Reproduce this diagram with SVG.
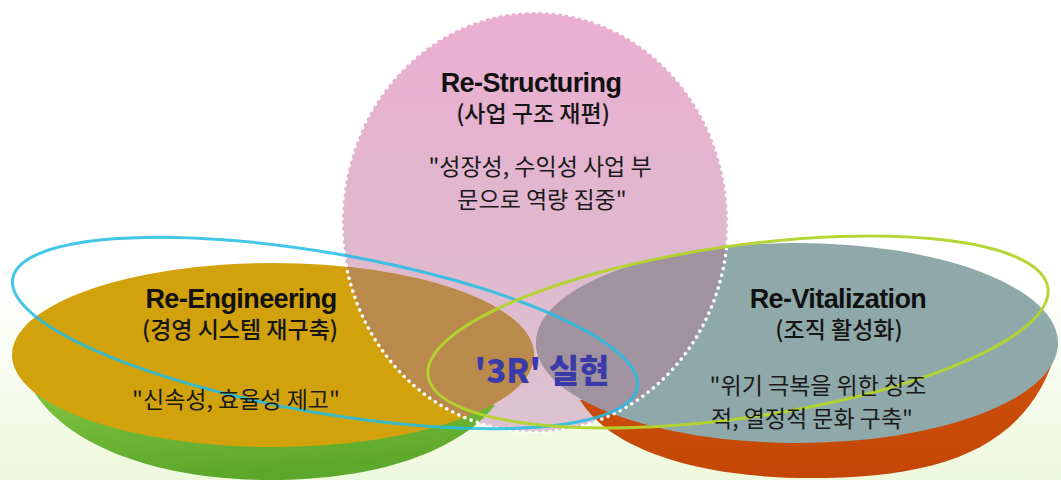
<svg xmlns="http://www.w3.org/2000/svg" width="1061" height="480" viewBox="0 0 1061 480">
  <defs>
    <linearGradient id="haze" x1="0" y1="0" x2="0" y2="1">
      <stop offset="0" stop-color="#ffffff"/>
      <stop offset="0.6" stop-color="#ffffff"/>
      <stop offset="1" stop-color="#eef8dc"/>
    </linearGradient>
    <linearGradient id="pinkFill" x1="0" y1="12" x2="0" y2="432" gradientUnits="userSpaceOnUse">
      <stop offset="0" stop-color="#eaaed1"/>
      <stop offset="0.6" stop-color="#dfb9ce"/>
      <stop offset="1" stop-color="#dcc3d0"/>
    </linearGradient>
    <linearGradient id="greenSide" x1="0" y1="0" x2="0.3" y2="1">
      <stop offset="0" stop-color="#8ccb4a"/>
      <stop offset="1" stop-color="#5ca82a"/>
    </linearGradient>
    <linearGradient id="orangeSide" x1="0" y1="0" x2="0" y2="1">
      <stop offset="0" stop-color="#d0520e"/>
      <stop offset="1" stop-color="#c44606"/>
    </linearGradient>
    <clipPath id="clipEngineering">
      <ellipse cx="273" cy="355" rx="261" ry="92"/>
    </clipPath>
    <clipPath id="clipVitalization">
      <ellipse cx="797" cy="343" rx="261" ry="100"/>
    </clipPath>
    <style>
      .title { font-family: "Liberation Sans", Arial, sans-serif; font-weight: bold; font-size: 27px; letter-spacing: -0.6px; fill: #111; text-anchor: middle; }
      .sub { font-family: "Noto Sans CJK KR", "Noto Sans", sans-serif; font-weight: 500; font-size: 23px; fill: #151515; text-anchor: middle; }
      .quote { font-family: "Noto Sans CJK KR", "Noto Sans", sans-serif; font-weight: 400; font-size: 23px; fill: #1a1a1a; text-anchor: middle; }
      .core { font-family: "Noto Sans CJK KR", "Noto Sans", sans-serif; font-weight: 900; font-size: 33px; fill: #3a3aa8; text-anchor: middle; }
      .ring { fill: none; stroke-width: 3; }
    </style>
  </defs>

  <!-- page background with a soft green haze at the floor -->
  <rect x="0" y="0" width="1061" height="480" fill="url(#haze)"/>

  <!-- Re-Structuring: upright pink disc -->
  <g id="node-restructuring">
    <ellipse cx="535" cy="222" rx="193" ry="210" fill="url(#pinkFill)"/>
  </g>

  <!-- Re-Engineering: mustard dish on a green side wall -->
  <g id="node-reengineering">
    <path d="M 20 360 L 495 405 C 460 450, 380 480, 270 480 C 150 480, 40 440, 20 360 Z" fill="url(#greenSide)"/>
    <ellipse cx="273" cy="355" rx="261" ry="92" fill="#d2a20c"/>
    <ellipse cx="535" cy="222" rx="193" ry="210" fill="#b98a4c" clip-path="url(#clipEngineering)"/>
  </g>

  <!-- Re-Vitalization: grey-teal dish on an orange side wall -->
  <g id="node-revitalization">
    <path d="M 580 400 C 610 450, 700 478, 810 478 C 940 478, 1030 450, 1058 345 L 580 400 Z" fill="url(#orangeSide)"/>
    <ellipse cx="797" cy="343" rx="261" ry="100" fill="#8fa8a9"/>
    <ellipse cx="535" cy="222" rx="193" ry="210" fill="#a0929f" clip-path="url(#clipVitalization)"/>
  </g>

  <!-- dotted rim of the pink disc -->
  <ellipse cx="535" cy="222" rx="193" ry="210" fill="none" stroke="#ffffff" stroke-width="3.5" stroke-dasharray="0.1 6.6" stroke-linecap="round"/>

  <!-- connector rings linking the three areas -->
  <g id="connectors">
    <ellipse class="ring" cx="325" cy="333" rx="317" ry="80" transform="rotate(9.9 325 333)" stroke="#22bde3" stroke-opacity="0.85"/>
    <ellipse class="ring" cx="738" cy="332" rx="313" ry="86" transform="rotate(-8.1 738 332)" stroke="#b2d42c" stroke-opacity="0.95"/>
  </g>

  <!-- labels -->
  <g id="label-restructuring">
    <text class="title" x="531" y="92">Re-Structuring</text>
    <text class="sub" x="533" y="122">(사업 구조 재편)</text>
    <text class="quote" x="540" y="175">"성장성, 수익성 사업 부</text>
    <text class="quote" x="542" y="208">문으로 역량 집중"</text>
  </g>
  <g id="label-reengineering">
    <text class="title" x="241" y="308">Re-Engineering</text>
    <text class="sub" x="240" y="338">(경영 시스템 재구축)</text>
    <text class="quote" x="236" y="408">"신속성, 효율성 제고"</text>
  </g>
  <g id="label-revitalization">
    <text class="title" x="838" y="308">Re-Vitalization</text>
    <text class="sub" x="839" y="338">(조직 활성화)</text>
    <text class="quote" x="818" y="394">"위기 극복을 위한 창조</text>
    <text class="quote" x="812" y="427">적, 열정적 문화 구축"</text>
  </g>
  <g id="node-core">
    <text class="core" x="542" y="383">'3R' 실현</text>
  </g>
</svg>
